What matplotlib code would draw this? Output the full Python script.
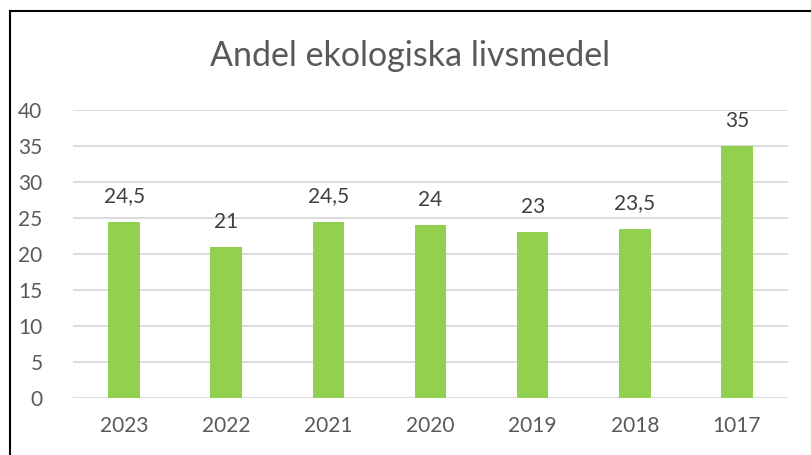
import matplotlib
matplotlib.use("Agg")
import matplotlib.pyplot as plt
from matplotlib.lines import Line2D

categories = ["2023", "2022", "2021", "2020", "2019", "2018", "1017"]
values = [24.5, 21, 24.5, 24, 23, 23.5, 35]
yticks = [0, 5, 10, 15, 20, 25, 30, 35, 40]
title = "Andel ekologiska livsmedel"

plt.rcParams['font.family'] = ['Lato', 'DejaVu Sans']

W, H = 811, 455
fig = plt.figure(figsize=(W/100, H/100), dpi=100)
ax = fig.add_axes([73/W, 1-398/H, (788-73)/W, (398-110)/H])

x = range(len(categories))
ax.bar(x, values, width=0.31, color="#92D050", zorder=3)
ax.set_xlim(-0.5, len(categories)-0.5)
ax.set_ylim(0, 40)
ax.set_yticks(yticks)
ax.set_yticklabels([str(t) for t in yticks])
ax.set_xticks(list(x))
ax.set_xticklabels(categories)
ax.yaxis.grid(True, color="#D9D9D9", linewidth=1.3, zorder=0)
for s in ax.spines.values():
    s.set_visible(False)
ax.tick_params(axis='both', length=0, labelsize=15, colors="#595959")
ax.tick_params(axis='y', pad=22)
ax.tick_params(axis='x', pad=13)

for xi, v in zip(x, values):
    lbl = ("%g" % v).replace(".", ",")
    ax.annotate(lbl, (xi, v), xytext=(0, 11), textcoords="offset points",
                ha="center", va="bottom", fontsize=15, color="#404040")

fig.text(410/W, 1-56/H, title, ha="center", va="center", fontsize=24.5, color="#595959")

# chart border (partially visible)
fig.add_artist(Line2D([9.5/W, 9.5/W], [0, 1-11/H], color="black", linewidth=1.5, transform=fig.transFigure))
fig.add_artist(Line2D([9.5/W, 1], [1-11/H, 1-11/H], color="black", linewidth=1.5, transform=fig.transFigure))

fig.savefig("out.png", dpi=100)
